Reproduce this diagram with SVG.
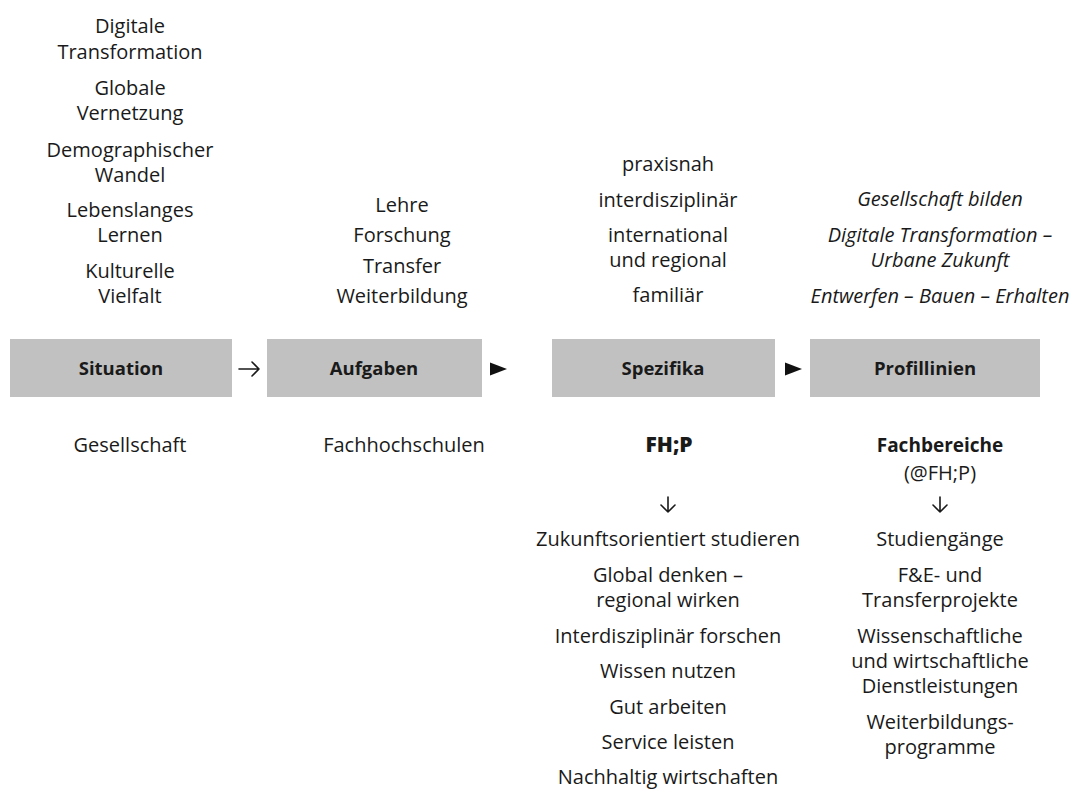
<svg xmlns="http://www.w3.org/2000/svg" width="1082" height="790" viewBox="0 0 1082 790">
<style>
  text { font-family: "Open Sans", "Noto Sans", "DejaVu Sans", sans-serif; font-size: 20px; fill: #1a1a1a; text-anchor: middle; }
  .box { fill: #c1c1c1; }
  .lbl { font-weight: 700; font-size: 18.5px; }
  .bold { font-weight: 700; font-size: 19px; }
  .black { font-weight: 800; font-size: 21px; }
  .it { font-style: italic; }
  .arr { fill: none; stroke: #1a1a1a; stroke-width: 1.6; stroke-linecap: round; stroke-linejoin: round; }
  .tri { fill: #111; }
</style>
<rect width="1082" height="790" fill="#fff"/>

<g id="node-situation">
  <rect class="box" x="10" y="339" width="222" height="58"/>
  <text class="lbl" x="121" y="375">Situation</text>
  <text x="130" y="33">Digitale</text>
  <text x="130" y="59">Transformation</text>
  <text x="130" y="95">Globale</text>
  <text x="130" y="120">Vernetzung</text>
  <text x="130" y="157">Demographischer</text>
  <text x="130" y="182">Wandel</text>
  <text x="130" y="217">Lebenslanges</text>
  <text x="130" y="242">Lernen</text>
  <text x="130" y="278">Kulturelle</text>
  <text x="130" y="303">Vielfalt</text>
  <text x="130" y="452">Gesellschaft</text>
</g>

<g id="node-aufgaben">
  <rect class="box" x="267" y="339" width="215" height="58"/>
  <text class="lbl" x="374" y="375">Aufgaben</text>
  <text x="402" y="212">Lehre</text>
  <text x="402" y="242">Forschung</text>
  <text x="402" y="273">Transfer</text>
  <text x="402" y="303">Weiterbildung</text>
  <text x="404" y="452">Fachhochschulen</text>
</g>

<g id="node-spezifika">
  <rect class="box" x="552" y="339" width="223" height="58"/>
  <text class="lbl" x="663" y="375">Spezifika</text>
  <text x="668" y="171">praxisnah</text>
  <text x="668" y="207">interdisziplinär</text>
  <text x="668" y="242">international</text>
  <text x="668" y="267">und regional</text>
  <text x="668" y="302">familiär</text>
  <text class="black" x="669" y="452">FH;P</text>
  <text x="668" y="546">Zukunftsorientiert studieren</text>
  <text x="668" y="582">Global denken –</text>
  <text x="668" y="607">regional wirken</text>
  <text x="668" y="643">Interdisziplinär forschen</text>
  <text x="668" y="678">Wissen nutzen</text>
  <text x="668" y="714">Gut arbeiten</text>
  <text x="668" y="749">Service leisten</text>
  <text x="668" y="784">Nachhaltig wirtschaften</text>
</g>

<g id="node-profillinien">
  <rect class="box" x="810" y="339" width="230" height="58"/>
  <text class="lbl" x="925" y="375">Profillinien</text>
  <text class="it" x="940" y="206">Gesellschaft bilden</text>
  <text class="it" x="940" y="242">Digitale Transformation –</text>
  <text class="it" x="940" y="267">Urbane Zukunft</text>
  <text class="it" x="940" y="303">Entwerfen – Bauen – Erhalten</text>
  <text class="bold" x="940" y="452">Fachbereiche</text>
  <text x="940" y="480">(@FH;P)</text>
  <text x="940" y="546">Studiengänge</text>
  <text x="940" y="582">F&amp;E- und</text>
  <text x="940" y="607">Transferprojekte</text>
  <text x="940" y="643">Wissenschaftliche</text>
  <text x="940" y="668">und wirtschaftliche</text>
  <text x="940" y="693">Dienstleistungen</text>
  <text x="940" y="729">Weiterbildungs-</text>
  <text x="940" y="754">programme</text>
</g>

<g id="connectors">
  <path class="arr" d="M239 369 H259 M252 362 L259 369 L252 376"/>
  <polygon class="tri" points="490,362.5 507,369 490,375.5"/>
  <polygon class="tri" points="785,362.5 802,369 785,375.5"/>
  <path class="arr" d="M668 497 V512 M661 505 L668 512 L675 505"/>
  <path class="arr" d="M940 497 V512 M933 505 L940 512 L947 505"/>
</g>
</svg>
